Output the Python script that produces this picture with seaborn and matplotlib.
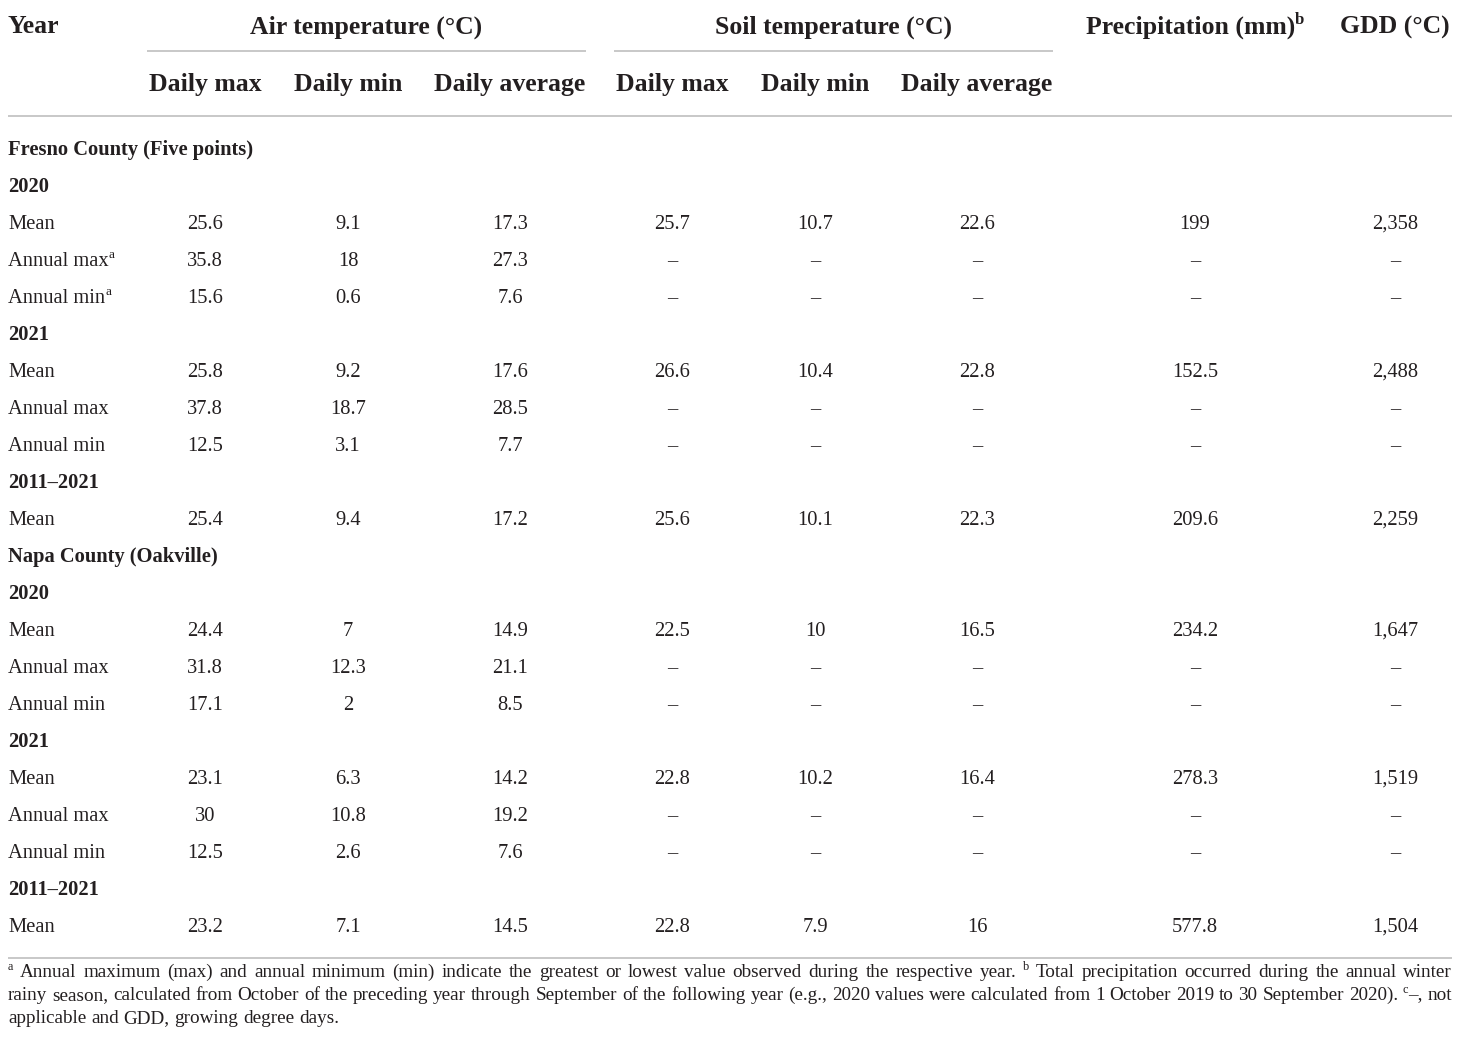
import re
import matplotlib
matplotlib.use("Agg")
import matplotlib.pyplot as plt
import seaborn as sns

# ---------------- data ----------------
row_labels = ["Fresno County (Five points)", "2020", "Mean", "Annual max", "Annual min",
              "2021", "Mean", "Annual max", "Annual min", "2011–2021", "Mean",
              "Napa County (Oakville)", "2020", "Mean", "Annual max", "Annual min",
              "2021", "Mean", "Annual max", "Annual min", "2011–2021", "Mean"]
row_bold = [True, True, False, False, False, True, False, False, False, True, False,
            True, True, False, False, False, True, False, False, False, True, False]
row_sup = ["", "", "", "a", "a", "", "", "", "", "", "",
           "", "", "", "", "", "", "", "", "", "", ""]

D = "–"
air_max = [None, None, "25.6", "35.8", "15.6", None, "25.8", "37.8", "12.5", None, "25.4",
           None, None, "24.4", "31.8", "17.1", None, "23.1", "30", "12.5", None, "23.2"]
air_min = [None, None, "9.1", "18", "0.6", None, "9.2", "18.7", "3.1", None, "9.4",
           None, None, "7", "12.3", "2", None, "6.3", "10.8", "2.6", None, "7.1"]
air_avg = [None, None, "17.3", "27.3", "7.6", None, "17.6", "28.5", "7.7", None, "17.2",
           None, None, "14.9", "21.1", "8.5", None, "14.2", "19.2", "7.6", None, "14.5"]
soil_max = [None, None, "25.7", D, D, None, "26.6", D, D, None, "25.6",
            None, None, "22.5", D, D, None, "22.8", D, D, None, "22.8"]
soil_min = [None, None, "10.7", D, D, None, "10.4", D, D, None, "10.1",
            None, None, "10", D, D, None, "10.2", D, D, None, "7.9"]
soil_avg = [None, None, "22.6", D, D, None, "22.8", D, D, None, "22.3",
            None, None, "16.5", D, D, None, "16.4", D, D, None, "16"]
precip = [None, None, "199", D, D, None, "152.5", D, D, None, "209.6",
          None, None, "234.2", D, D, None, "278.3", D, D, None, "577.8"]
gdd = [None, None, "2,358", D, D, None, "2,488", D, D, None, "2,259",
       None, None, "1,647", D, D, None, "1,519", D, D, None, "1,504"]

group_headers = ["Air temperature (°C)", "Soil temperature (°C)"]
sub_headers = ["Daily max", "Daily min", "Daily average",
               "Daily max", "Daily min", "Daily average"]

# ^x^ marks a superscript
footnotes = [
    "^a^ Annual maximum (max) and annual minimum (min) indicate the greatest or lowest value "
    "observed during the respective year. ^b^ Total precipitation occurred during the annual winter",
    "rainy season, calculated from October of the preceding year through September of the following "
    "year (e.g., 2020 values were calculated from 1 October 2019 to 30 September 2020). ^c^–, not",
    "applicable and GDD, growing degree days.",
]
footnote_justify = [True, True, False]

# ---------------- style ----------------
sns.set_theme(style="white")
plt.rcParams['font.family'] = ['Liberation Serif', 'DejaVu Serif']
TXT = "#231f20"
RULE = "#c4c4c4"

W, H = 1460, 1050
fig = plt.figure(figsize=(14.6, 10.5), dpi=100)
ax = fig.add_axes([0, 0, 1, 1])
ax.set_xlim(0, W)
ax.set_ylim(H, 0)
ax.axis("off")
renderer = fig.canvas.get_renderer()
PX = 100 / 72.0  # px per point

SUP = 0.65


def width_of(s, size, weight="normal"):
    t = ax.text(0, 0, s, fontsize=size, fontweight=weight)
    w = t.get_window_extent(renderer).width
    t.remove()
    return w


def pieces_width(pieces, size, weight="normal"):
    return sum(width_of(s, size * SUP if sup else size, weight) for s, sup in pieces)


def draw_pieces(x, base, pieces, size, weight="normal"):
    for s, sup in pieces:
        if sup:
            ax.text(x, base - size * PX * 0.38, s, fontsize=size * SUP, fontweight=weight,
                    color=TXT, va="baseline")
            x += width_of(s, size * SUP, weight)
        else:
            ax.text(x, base, s, fontsize=size, fontweight=weight, color=TXT, va="baseline")
            x += width_of(s, size, weight)
    return x


def parse(word):
    out = []
    for k, part in enumerate(re.split(r"\^", word)):
        if part:
            out.append((part, k % 2 == 1))
    return out


def cap_base(yc, size):
    # baseline so that the cap/digit height is centred on yc
    return yc + 0.33 * size * PX


HS = 18.5   # header size
BS = 14.8   # body size

left, right = 8, 1452

# header
hb1 = cap_base(25, HS)
hb2 = cap_base(83, HS)
ax.text(left, hb1, "Year", fontsize=HS, fontweight="bold", color=TXT, va="baseline")
col_x = [205, 348, 510, 672, 815, 977, 1195, 1395]
grp_spans = [(147, 586), (614, 1053)]
for (a, b), g in zip(grp_spans, group_headers):
    ax.text((a + b) / 2, hb1, g, fontsize=HS, fontweight="bold", color=TXT,
            va="baseline", ha="center")
    ax.plot([a, b], [51, 51], color=RULE, lw=1.3, solid_capstyle="butt")
ph = [("Precipitation (mm)", False), ("b", True)]
pw = pieces_width(ph, HS, "bold")
draw_pieces(col_x[6] - pw / 2, hb1, ph, HS, "bold")
ax.text(col_x[7], hb1, "GDD (°C)", fontsize=HS, fontweight="bold", color=TXT,
        va="baseline", ha="center")
for cx, s in zip(col_x[:6], sub_headers):
    ax.text(cx, hb2, s, fontsize=HS, fontweight="bold", color=TXT, va="baseline", ha="center")
ax.plot([left, right], [116, 116], color=RULE, lw=1.3, solid_capstyle="butt")

# body
columns = [air_max, air_min, air_avg, soil_max, soil_min, soil_avg, precip, gdd]
y0, dy = 148, 37
for i, lab in enumerate(row_labels):
    yb = cap_base(y0 + i * dy, BS)
    wt = "bold" if row_bold[i] else "normal"
    pieces = [(lab, False)] + ([(row_sup[i], True)] if row_sup[i] else [])
    draw_pieces(left, yb, pieces, BS, wt)
    for cx, col in zip(col_x, columns):
        v = col[i]
        if v is not None:
            ax.text(cx, yb, v, fontsize=BS, color=TXT, va="baseline", ha="center")

ax.plot([left, right], [958, 958], color=RULE, lw=1.3, solid_capstyle="butt")


# footnotes (justified); size chosen so the longest justified line fits naturally
def natural_width(line, size):
    words = [parse(w) for w in line.split(" ")]
    sw = width_of("a a", size) - 2 * width_of("a", size)
    return sum(pieces_width(w, size) for w in words) + sw * (len(words) - 1)


ref = 13.0
longest = max(natural_width(l, ref) for l, j in zip(footnotes, footnote_justify) if j)
FS = ref * (right - left) / longest * 0.995

space_w = width_of("a a", FS) - 2 * width_of("a", FS)
for j, line in enumerate(footnotes):
    words = [parse(w) for w in line.split(" ")]
    ws = [pieces_width(w, FS) for w in words]
    if footnote_justify[j] and len(words) > 1:
        gap = (right - left - sum(ws)) / (len(words) - 1)
    else:
        gap = space_w
    x = left
    base = cap_base(971 + j * 23, FS)
    for w, wd in zip(words, ws):
        draw_pieces(x, base, w, FS)
        x += wd + gap

fig.savefig("out.png", dpi=100, facecolor="white")
